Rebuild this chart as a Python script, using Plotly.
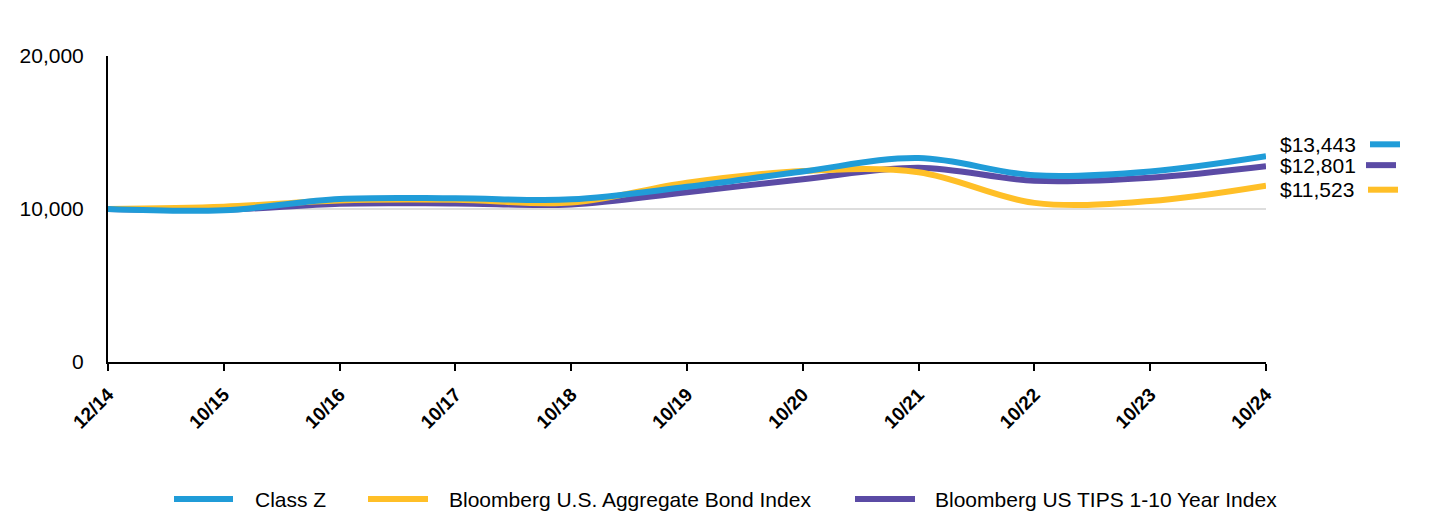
import plotly.graph_objects as go

categories = ["12/14", "10/15", "10/16", "10/17", "10/18", "10/19",
              "10/20", "10/21", "10/22", "10/23", "10/24"]
class_z = [10000, 9920, 10650, 10700, 10630, 11450, 12450, 13330, 12200, 12450, 13443]
agg_bond = [10000, 10150, 10560, 10600, 10420, 11720, 12480, 12400, 10400, 10520, 11523]
tips_1_10 = [10000, 9950, 10350, 10360, 10300, 11100, 11950, 12700, 11850, 12050, 12801]
y_ticks = [0, 10000, 20000]

names = ["Class Z", "Bloomberg U.S. Aggregate Bond Index", "Bloomberg US TIPS 1-10 Year Index"]
colors = ["#209CD8", "#FFBF27", "#5B4BA5"]
series = [class_z, agg_bond, tips_1_10]

FONT = "Arial, Liberation Sans, sans-serif"
OFF = 8  # page body margin
W, H = 1440 - OFF, 516 - OFF
PLOT_L, PLOT_R, PLOT_T, PLOT_B = 108 - OFF, 1266 - OFF, 56 - OFF, 362 - OFF

label_shift = [12, -4, 1]
seg_offset = [(104, 134), (102, 132), (100, 130)]
legend_swatch_px = [(174 - OFF, 233 - OFF), (368 - OFF, 428 - OFF), (855 - OFF, 915 - OFF)]
legend_text_px = [253 - OFF, 447 - OFF, 933 - OFF]
legend_y_px = 499 - OFF


def px_x(p):
    return (p - PLOT_L) / (PLOT_R - PLOT_L)


def px_y(p):
    return (PLOT_B - p) / (PLOT_B - PLOT_T)


fig = go.Figure()
for i in [2, 1, 0]:
    fig.add_trace(go.Scatter(
        x=categories, y=series[i], name=names[i], mode="lines",
        line=dict(color=colors[i], width=6, shape="spline", smoothing=1),
        hoverinfo="skip", showlegend=False))

# end labels
for i in range(3):
    v = series[i][-1]
    fig.add_annotation(x=1, xref="paper", y=v, yref="y", xanchor="left", yanchor="middle",
                       xshift=12, yshift=label_shift[i], showarrow=False,
                       text=f"${v:,}", font=dict(family=FONT, size=21, color="#000"))
    fig.add_shape(type="line", xref="paper", xsizemode="pixel", xanchor=1,
                  x0=seg_offset[i][0], x1=seg_offset[i][1],
                  yref="y", ysizemode="pixel", yanchor=v,
                  y0=label_shift[i], y1=label_shift[i],
                  line=dict(color=colors[i], width=6))

# legend
for i in range(3):
    fig.add_shape(type="line", xref="paper", yref="paper",
                  x0=px_x(legend_swatch_px[i][0]), x1=px_x(legend_swatch_px[i][1]),
                  y0=px_y(legend_y_px), y1=px_y(legend_y_px),
                  line=dict(color=colors[i], width=6))
    fig.add_annotation(x=px_x(legend_text_px[i]), xref="paper", y=px_y(legend_y_px), yref="paper",
                       xanchor="left", yanchor="middle", showarrow=False,
                       text=names[i], font=dict(family=FONT, size=21, color="#000"))

fig.update_layout(
    width=W, height=H,
    margin=dict(l=PLOT_L, r=W - PLOT_R, t=PLOT_T, b=H - PLOT_B, autoexpand=False),
    plot_bgcolor="white", paper_bgcolor="white",
    font=dict(family=FONT, color="#000"),
    showlegend=False,
    xaxis=dict(type="category", range=[0, len(categories) - 1], automargin=False,
               showline=True, linecolor="#000", linewidth=2,
               ticks="outside", ticklen=7, tickwidth=2, tickcolor="#000",
               tickangle=-45, ticklabelstandoff=5,
               tickfont=dict(size=19, family=FONT, weight="bold"),
               showgrid=False, zeroline=False),
    yaxis=dict(range=[0, 20000], tickvals=y_ticks, tickformat=",", automargin=False,
               showline=True, linecolor="#000", linewidth=2,
               ticks="", showgrid=True, gridcolor="#dddddd", gridwidth=1.5,
               zeroline=False, tickfont=dict(size=21), ticklabelstandoff=18),
)

fig.write_html("out.html")
